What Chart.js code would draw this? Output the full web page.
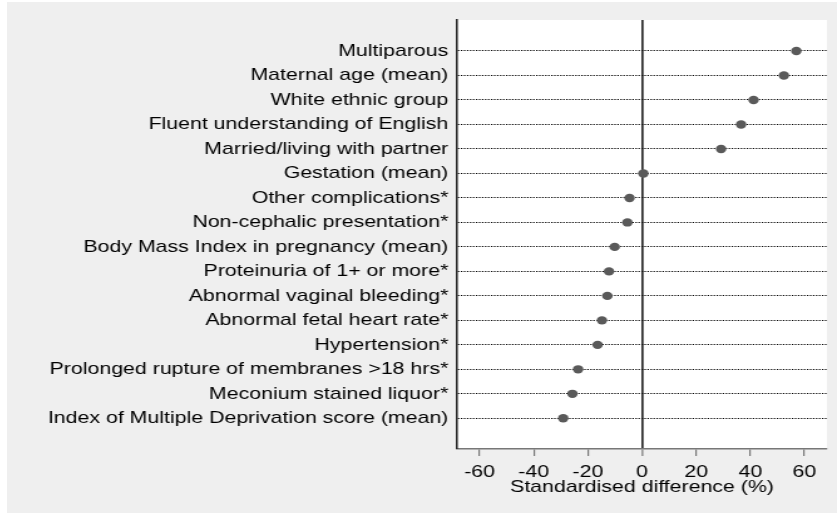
<!DOCTYPE html>
<html>
<head>
<meta charset="utf-8">
<script src="https://cdn.jsdelivr.net/npm/chart.js@4.4.0/dist/chart.umd.min.js"></script>
<style>
  html, body { margin: 0; padding: 0; background: #ffffff; }
  #wrap {
    position: absolute; left: 7px; top: 2px;
    width: 662px; height: 511px;
    transform: scaleX(1.2538); transform-origin: 0 0;
  }
  #balanceChart { background: #efefef; display: block; }
</style>
</head>
<body>
<div id="wrap"><canvas id="balanceChart" width="662" height="511"></canvas></div>
<script>
const covariates = [
    'Multiparous',
    'Maternal age (mean)',
    'White ethnic group',
    'Fluent understanding of English',
    'Married/living with partner',
    'Gestation (mean)',
    'Other complications*',
    'Non-cephalic presentation*',
    'Body Mass Index in pregnancy (mean)',
    'Proteinuria of 1+ or more*',
    'Abnormal vaginal bleeding*',
    'Abnormal fetal heart rate*',
    'Hypertension*',
    'Prolonged rupture of membranes >18 hrs*',
    'Meconium stained liquor*',
    'Index of Multiple Deprivation score (mean)'
];
const stdDiff = [57, 52.4, 41.2, 36.6, 29.2, 0.5, -4.6, -5.4, -10.1, -12.2, -12.8, -14.8, -16.4, -23.6, -25.7, -29.1];
const xTicks = [-60, -40, -20, 0, 20, 40, 60];

const font = { family: '"Liberation Sans", Arial, sans-serif', size: 17 };

// white plot region on the grey page
const plotBackground = {
    id: 'plotBackground',
    beforeDraw: (chart) => {
        const { ctx, chartArea: a } = chart;
        ctx.save();
        ctx.fillStyle = '#ffffff';
        ctx.fillRect(a.left, a.top, a.right - a.left, a.bottom - a.top);
        ctx.restore();
    }
};

new Chart(document.getElementById('balanceChart'), {
    type: 'scatter',
    data: {
        datasets: [{
            data: stdDiff.map((v, i) => ({ x: v, y: i + 1 })),
            backgroundColor: '#5a5a5a',
            borderColor: '#5a5a5a',
            borderWidth: 0,
            pointRadius: 4.2,
            pointHoverRadius: 4.2
        }]
    },
    options: {
        responsive: false,
        animation: false,
        layout: { padding: { left: 0, right: 8, top: 18, bottom: 0 } },
        plugins: { legend: { display: false }, tooltip: { enabled: false } },
        scales: {
            x: {
                type: 'linear',
                min: -68.3,
                max: 68.3,
                afterBuildTicks: s => { s.ticks = xTicks.map(v => ({ value: v })); },
                afterFit: s => { s.height = 64; },
                grid: {
                    drawOnChartArea: true,
                    color: c => (c.tick && c.tick.value === 0) ? '#2a2a2a' : 'rgba(0,0,0,0)',
                    lineWidth: c => (c.tick && c.tick.value === 0) ? 1.7 : 1.2,
                    tickColor: '#777777',
                    tickWidth: 1.2,
                    tickLength: 7
                },
                border: { display: true, color: '#777777', width: 1.6 },
                ticks: { font: font, color: '#000000', padding: 6, maxRotation: 0 },
                title: {
                    display: true,
                    text: 'Standardised difference (%)',
                    font: font,
                    color: '#000000',
                    padding: { top: 0, bottom: 15 }
                }
            },
            y: {
                type: 'linear',
                reverse: true,
                min: -0.266,
                max: 17.253,
                afterBuildTicks: s => { s.ticks = covariates.map((_, i) => ({ value: i + 1 })); },
                afterFit: s => { s.width = 359; },
                grid: {
                    drawTicks: false,
                    color: '#000000',
                    lineWidth: 1.1
                },
                border: { display: true, color: '#2a2a2a', width: 1.6, dash: [1.2, 1.2] },
                ticks: {
                    font: font,
                    color: '#000000',
                    padding: 7,
                    callback: v => covariates[v - 1] || ''
                }
            }
        }
    },
    plugins: [plotBackground]
});
</script>
</body>
</html>
